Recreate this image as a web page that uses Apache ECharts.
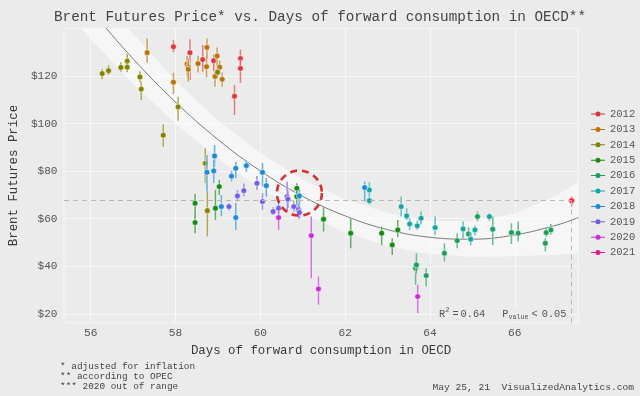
<!DOCTYPE html>
<html lang="en">
<head>
<meta charset="UTF-8">
<title>Brent vs OECD days of forward consumption</title>
<style>
  html, body { margin: 0; padding: 0; background: #ebebeb; }
  #main { width: 640px; height: 396px; }
</style>
</head>
<body>
<div id="main"></div>
<script src="https://cdn.jsdelivr.net/npm/echarts@6/dist/echarts.min.js"></script>
<script>
// years + colours of the legend
var years = ['2012', '2013', '2014', '2015', '2016', '2017', '2018', '2019', '2020', '2021'];
var yearColors = ['#d9393e', '#b8730a', '#858200', '#178a17', '#1e9c5c', '#1aa3a3', '#1e8ad2', '#6f5fe5', '#c62fd5', '#de1c8c'];

// one entry per monthly point: year, days of forward consumption, price, low / high of the range
var pointYear = [
  '2012', '2012', '2012', '2012', '2012', '2012', '2012',
  '2013', '2013', '2013', '2013', '2013', '2013', '2013', '2013', '2013', '2013', '2013', '2013',
  '2014', '2014', '2014', '2014', '2014', '2014', '2014', '2014', '2014', '2014', '2014', '2014',
  '2015', '2015', '2015', '2015', '2015', '2015', '2015', '2015', '2015', '2015', '2015',
  '2016', '2016', '2016', '2016', '2016', '2016', '2016', '2016', '2016', '2016', '2016', '2016', '2016',
  '2017', '2017', '2017', '2017', '2017', '2017', '2017', '2017', '2017', '2017', '2017', '2017',
  '2018', '2018', '2018', '2018', '2018', '2018', '2018', '2018', '2018', '2018', '2018', '2018',
  '2019', '2019', '2019', '2019', '2019', '2019', '2019', '2019', '2019', '2019', '2019', '2019',
  '2020', '2020', '2020', '2020',
  '2021'
];
var pointDays = [
  57.95, 58.34, 58.64, 58.90, 59.39, 59.53, 59.53,
  57.33, 57.95, 58.27, 58.30, 58.30, 58.53, 58.73, 58.74, 58.98, 58.93, 59.04, 59.10,
  56.27, 56.42, 56.71, 56.86, 56.86, 57.16, 57.19, 57.71, 58.06, 58.99, 58.70, 58.75,
  58.46, 58.46, 58.94, 59.03, 60.86, 60.86, 61.49, 62.13, 62.86, 63.11, 63.24,
  63.66, 63.68, 63.91, 64.34, 64.64, 64.91, 65.12, 65.48, 65.92, 66.08, 66.72, 66.74, 66.85,
  62.57, 62.57, 63.32, 63.45, 63.52, 63.70, 63.79, 64.12, 64.78, 64.96, 65.06, 65.40,
  58.74, 58.92, 58.90, 59.08, 59.32, 59.42, 59.42, 59.67, 60.05, 60.14, 60.92, 62.46,
  59.26, 59.46, 59.61, 59.92, 60.05, 60.30, 60.43, 60.63, 60.65, 60.79, 60.90, 60.92,
  60.43, 61.20, 61.37, 63.71,
  67.34
];
var pointPrice = [
  132.3, 129.8, 126.9, 126.4, 111.5, 127.3, 123.2,
  129.8, 117.4, 125.0, 123.9, 122.8, 125.2, 123.9, 132.0, 128.4, 119.8, 123.7, 118.6,
  121.0, 122.2, 123.6, 126.2, 123.7, 119.6, 114.5, 95.1, 107.0, 121.6, 83.3, 63.4,
  66.5, 58.4, 64.4, 73.5, 72.8, 69.3, 59.8, 53.9, 53.9, 49.0, 55.3,
  39.2, 40.6, 36.1, 45.5, 50.8, 53.6, 60.9, 55.6, 54.2, 53.9, 49.7, 54.2, 55.3,
  72.1, 67.6, 65.1, 61.2, 57.8, 57.0, 60.2, 56.3, 55.7, 51.4, 55.3, 60.9,
  79.5, 86.4, 80.1, 65.1, 77.9, 81.2, 60.5, 82.3, 79.5, 73.9, 69.6, 73.1,
  65.1, 69.6, 71.8, 74.9, 67.2, 63.0, 64.4, 69.3, 68.2, 65.1, 64.0, 62.6,
  60.5, 52.9, 30.5, 27.3,
  67.6
];
var pointLow = [
  130.0, 118.3, 121.8, 122.0, 103.6, 123.0, 117.0,
  125.6, 112.4, 120.0, 119.0, 117.6, 121.5, 119.5, 127.4, 124.0, 115.5, 121.0, 115.5,
  118.6, 120.5, 121.8, 124.2, 121.6, 117.5, 109.9, 90.3, 101.2, 120.0, 74.9, 52.5,
  60.9, 53.9, 59.5, 70.0, 69.0, 63.0, 54.6, 47.6, 49.0, 44.8, 52.2,
  32.2, 37.0, 31.5, 42.0, 47.6, 50.8, 58.8, 49.0, 49.4, 50.4, 46.2, 52.4, 53.3,
  69.3, 66.0, 60.9, 59.5, 55.3, 55.3, 57.6, 53.2, 51.8, 48.8, 53.0, 59.2,
  71.4, 81.9, 75.0, 61.0, 75.7, 77.0, 55.3, 79.7, 73.5, 69.3, 65.1, 67.2,
  63.5, 67.2, 69.5, 72.1, 63.7, 61.6, 61.6, 63.0, 64.5, 63.0, 60.2, 60.0,
  55.3, 35.0, 23.8, 20.3,
  65.1
];
var pointHigh = [
  135.0, 135.4, 133.0, 129.0, 116.2, 131.0, 127.0,
  135.8, 121.4, 128.5, 127.0, 127.4, 128.5, 128.5, 135.8, 132.0, 122.0, 126.5, 121.5,
  122.8, 124.5, 125.8, 129.2, 125.8, 122.0, 117.6, 99.7, 111.3, 123.5, 89.6, 71.4,
  70.4, 61.6, 72.1, 76.3, 74.9, 72.0, 65.1, 60.2, 56.7, 51.8, 59.5,
  42.0, 45.5, 39.2, 49.7, 53.9, 56.4, 63.0, 60.9, 58.1, 58.8, 51.8, 56.1, 57.8,
  75.3, 69.3, 69.3, 64.4, 60.2, 59.1, 63.0, 60.9, 58.8, 54.2, 57.2, 62.3,
  86.8, 91.0, 84.7, 70.0, 80.1, 84.0, 66.6, 84.5, 83.4, 77.1, 72.1, 75.6,
  66.6, 72.1, 74.8, 78.0, 70.7, 64.8, 67.6, 75.6, 72.0, 67.3, 66.5, 65.0,
  63.7, 60.9, 35.7, 32.2,
  69.3
];

// fitted curve and its confidence band
var fitDays  = [55.4, 56, 57, 58, 59, 60, 61, 62, 63, 64, 65, 66, 67, 67.5];
var fitPrice = [161.5, 147.9, 127.2, 109.0, 93.3, 80.1, 69.4, 61.2, 55.4, 52.2, 51.4, 53.2, 57.4, 60.5];
var bandHigh = [175.5, 160.4, 137.7, 118.0, 101.3, 87.6, 76.4, 68.2, 62.4, 59.2, 58.9, 62.2, 69.9, 75.5];
var bandLow  = [147.5, 135.4, 116.7, 100.0, 85.3, 72.6, 62.4, 54.2, 48.4, 45.2, 43.9, 44.2, 44.9, 45.5];

var xTicks = [56, 58, 60, 62, 64, 66];
var yTicks = [20, 40, 60, 80, 100, 120];
var xMin = 55.37, xMax = 67.49;
var yMin = 16.3, yMax = 140;

// latest point (dashed guides) and the highlighted cluster
var latestPoint = [67.34, 67.6];
var circledPoint = [60.92, 70.8];

var mono = "'Liberation Mono', 'DejaVu Sans Mono', monospace";
var myChart = echarts.init(document.getElementById('main'));

function pointRange(params, api) {
    var mid = api.coord([api.value(0), api.value(1)]);
    var lo = api.coord([api.value(0), api.value(2)]);
    var hi = api.coord([api.value(0), api.value(3)]);
    var color = api.visual('color');
    var fill = params.seriesName === '2021' ? '#ff1f1f' : color;
    return {
        type: 'group',
        children: [
            { type: 'line', shape: { x1: lo[0], y1: lo[1], x2: hi[0], y2: hi[1] },
              style: { stroke: 'rgba(255,255,255,0.45)', lineWidth: 3.2 } },
            { type: 'line', shape: { x1: lo[0], y1: lo[1], x2: hi[0], y2: hi[1] },
              style: { stroke: color, lineWidth: 1.6, opacity: 0.65 } },
            { type: 'circle', shape: { cx: mid[0], cy: mid[1], r: 2.9 },
              style: { fill: fill, stroke: 'rgba(255,255,255,0.55)', lineWidth: 1 } }
        ]
    };
}

var series = [];

// confidence band
series.push({
    type: 'custom',
    name: 'band',
    clip: true,
    silent: true,
    z: 1,
    data: [[fitDays[0], fitPrice[0]]],
    renderItem: function (params, api) {
        var pts = [];
        for (var i = 0; i < fitDays.length; i++) pts.push(api.coord([fitDays[i], bandHigh[i]]));
        for (var j = fitDays.length - 1; j >= 0; j--) pts.push(api.coord([fitDays[j], bandLow[j]]));
        return { type: 'polygon', shape: { points: pts }, style: { fill: 'rgba(255,255,255,0.55)' } };
    }
});

// fit line + dashed guides to the latest value
series.push({
    type: 'line',
    name: 'fit',
    data: fitDays.map(function (d, i) { return [d, fitPrice[i]]; }),
    smooth: 0.4,
    showSymbol: false,
    silent: true,
    z: 2,
    lineStyle: { color: '#7a7a7a', width: 1 },
    markLine: {
        symbol: 'none',
        silent: true,
        label: { show: false },
        lineStyle: { color: '#b8b8b8', width: 1, type: [5, 4] },
        data: [
            [{ coord: [xMin, latestPoint[1]] }, { coord: [latestPoint[0], latestPoint[1]] }],
            [{ coord: [latestPoint[0], latestPoint[1]] }, { coord: [latestPoint[0], yMin] }]
        ]
    }
});

years.forEach(function (yr, k) {
    var rows = [];
    for (var i = 0; i < pointYear.length; i++) {
        if (pointYear[i] === yr) rows.push([pointDays[i], pointPrice[i], pointLow[i], pointHigh[i]]);
    }
    series.push({
        type: 'custom',
        name: yr,
        clip: true,
        z: 3,
        color: yearColors[k],
        itemStyle: { color: yearColors[k] },
        encode: { x: 0, y: [1, 2, 3] },
        data: rows,
        renderItem: pointRange
    });
});

// red dashed ring
series.push({
    type: 'scatter',
    name: 'ring',
    silent: true,
    z: 5,
    symbol: 'circle',
    symbolSize: 45,
    data: [circledPoint],
    itemStyle: { color: 'rgba(0,0,0,0)', borderColor: '#d10000', borderWidth: 2.6, borderType: [7, 5] }
});

var legendIcon = 'path://M0,2.5H14V3.5H0Z M4.5,3A2.5,2.5 0 1,1 9.5,3A2.5,2.5 0 1,1 4.5,3Z';
var txt = { fontFamily: mono, fontSize: 10.3, fill: '#555', lineHeight: 14 };

option = {
    backgroundColor: '#ebebeb',
    animation: false,
    title: {
        text: 'Brent Futures Price* vs. Days of forward consumption in OECD**',
        left: 'center',
        top: 4,
        textStyle: { fontFamily: mono, fontSize: 14.3, fontWeight: 'normal', color: '#444', lineHeight: 17 }
    },
    legend: {
        orient: 'vertical',
        left: 586,
        top: 103,
        itemWidth: 14,
        itemHeight: 5,
        itemGap: 3.4,
        selectedMode: false,
        textStyle: { fontFamily: mono, fontSize: 10.5, color: '#555', lineHeight: 12 },
        data: years.map(function (y) { return { name: y, icon: legendIcon }; })
    },
    grid: {
        left: 60, right: 62, top: 28.4, bottom: 73.3,
        show: true, borderColor: '#f6f6f6', borderWidth: 1, backgroundColor: 'rgba(0,0,0,0)'
    },
    xAxis: {
        type: 'value',
        min: xMin,
        max: xMax,
        name: 'Days of forward consumption in OECD',
        nameLocation: 'middle',
        nameGap: 22,
        nameTextStyle: { fontFamily: mono, fontSize: 12.4, color: '#3a3a3a' },
        axisLine: { show: false },
        axisTick: { show: false, customValues: xTicks },
        axisLabel: { customValues: xTicks, margin: 5, fontFamily: mono, fontSize: 11.2, color: '#555' },
        splitLine: { show: true, lineStyle: { color: '#f7f7f7', width: 1 } }
    },
    yAxis: {
        type: 'value',
        min: yMin,
        max: yMax,
        name: 'Brent Futures Price',
        nameLocation: 'middle',
        nameGap: 39,
        nameTextStyle: { fontFamily: mono, fontSize: 12.4, color: '#3a3a3a' },
        axisLine: { show: false },
        axisTick: { show: false, customValues: yTicks },
        axisLabel: {
            customValues: yTicks, margin: 6.5, fontFamily: mono, fontSize: 11.1, color: '#555',
            formatter: function (v) { return '$' + v; }
        },
        splitLine: { show: true, lineStyle: { color: '#f7f7f7', width: 1 } }
    },
    graphic: [
        {
            type: 'text', x: 436, y: 314, z: 10,
            style: {
                text: '{a|R}{sup|2}{eq|=}{a|0.64}{gap| }{a|P}{sub|value}{lt|<}{a|0.05}',
                verticalAlign: 'middle',
                backgroundColor: '#ebebeb',
                padding: [0, 2, 0, 3],
                rich: {
                    a: txt,
                    eq: Object.assign({}, txt, { padding: [0, 2, 0, 3] }),
                    lt: Object.assign({}, txt, { padding: [0, 4, 0, 3] }),
                    gap: Object.assign({}, txt, { width: 17 }),
                    sup: { fontFamily: mono, fontSize: 7, fill: '#555', lineHeight: 9, verticalAlign: 'top' },
                    sub: { fontFamily: mono, fontSize: 6.7, fill: '#555', lineHeight: 9, verticalAlign: 'bottom' }
                }
            }
        },
        { type: 'text', x: 60, y: 366.3, style: { text: '* adjusted for inflation', font: '9.4px ' + mono, fill: '#444', verticalAlign: 'middle' } },
        { type: 'text', x: 60, y: 376.7, style: { text: '** according to OPEC', font: '9.4px ' + mono, fill: '#444', verticalAlign: 'middle' } },
        { type: 'text', x: 60, y: 387, style: { text: '*** 2020 out of range', font: '9.4px ' + mono, fill: '#444', verticalAlign: 'middle' } },
        { type: 'text', x: 634, y: 387, style: { text: 'May 25, 21  VisualizedAnalytics.com', font: '9.6px ' + mono, fill: '#444', align: 'right', verticalAlign: 'middle' } }
    ],
    series: series
};
myChart.setOption(option);
</script>
</body>
</html>
